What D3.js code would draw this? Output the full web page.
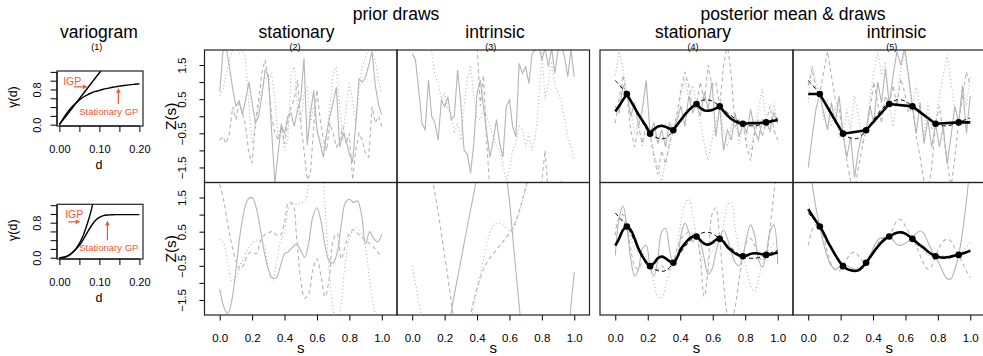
<!DOCTYPE html>
<html>
<head>
<meta charset="utf-8">
<script src="https://cdn.jsdelivr.net/npm/d3@7"></script>
<style>
  body { margin: 0; background: #fff; }
  svg { display: block; }
  text { font-family: "Liberation Sans", Arial, Helvetica, sans-serif; fill: #000; }
</style>
</head>
<body>
<svg id="chart" width="983" height="356"></svg>
<script>
/* --------------------------------------------------------- */
/* DATA                                                      */
/* --------------------------------------------------------- */

// variogram panels (1)
const varD = d3.range(21).map(i => i / 100);
const varStatTop = [0, 0.15, 0.28, 0.39, 0.48, 0.56, 0.63, 0.68, 0.72, 0.755, 0.78, 0.805, 0.825, 0.845, 0.86, 0.875, 0.89, 0.9, 0.91, 0.92, 0.93];
const varIgpTopD = [0, 0.05, 0.1, 0.13];
const varIgpTop = [0, 0.59, 1.18, 1.53];
const varStatBot = [0, 0.01, 0.04, 0.1, 0.18, 0.28, 0.42, 0.58, 0.73, 0.85, 0.92, 0.96, 0.975, 0.98, 0.985, 0.985, 0.985, 0.985, 0.985, 0.985, 0.985];
const varIgpBotD = [0, 0.01, 0.02, 0.03, 0.04, 0.05, 0.06, 0.07, 0.08, 0.09];
const varIgpBot = [0, 0.005, 0.03, 0.09, 0.19, 0.33, 0.52, 0.78, 1.1, 1.5];

// observed locations / values
const obsS = [1, 3, 5, 7, 9, 11, 13].map(k => k / 14);
const obsZ = [0.65, -0.51, -0.41, 0.36, 0.29, -0.22, -0.18];

// grids of s
const grid51 = d3.range(51).map(i => i / 50);
const grid41 = d3.range(41).map(i => i / 40);
const grid43 = d3.range(43).map(i => i / 42);

// (2) prior, stationary, rough
const priorStatRoughSolid = [0.72, 1.9, 2.0, 1.45, 0.8, 0.3, 0.45, 0.05, 0.5, 1.0, 0.4, -0.2, 0.0, 0.6, 1.35, 1.2, -0.4, -1.96, -1.1, -0.25, -0.5, 0.0, 0.1, -0.3, 0.2, 0.5, 1.7, -0.85, 0.1, 0.75, -0.4, -0.8, -1.2, -0.5, 0.0, 0.4, 0.85, -0.9, -0.5, -0.7, -1.1, -1.35, -0.2, 1.1, 1.0, 1.15, 1.5, 1.9, 0.9, 0.35, 0.04];
const priorStatRoughDashed = [-0.7, -0.6, -0.8, -0.5, 0.28, -0.1, 0.38, 0.1, -0.3, -1.1, -1.37, -0.2, 0.48, 1.26, 1.65, 1.06, 0.0, -0.5, -0.7, -0.3, -0.8, -0.2, 0.28, 0.48, 1.06, -0.2, -1.0, -1.86, -1.67, -0.3, 0.77, -0.1, -0.7, -1.0, -0.2, -0.5, -0.9, -0.7, -0.3, -0.8, -0.5, -1.86, -1.0, -0.5, -0.7, -1.1, -1.2, 0.28, -0.2, 0.0, -0.3];
const priorStatRoughDotted = [0.6, 0.77, 1.26, 1.65, 1.94, 2.0, 1.84, 1.94, 1.65, 0.28, -0.8, -0.3, 0.28, 0.77, 1.16, 1.06, 1.26, 0.48, -0.7, -0.2, -1.0, -0.7, 1.26, 1.45, 0.28, -0.2, 0.67, 0.87, -0.2, 0.28, -0.4, -0.7, -1.0, -0.5, 0.28, 1.26, 1.45, 0.28, -0.7, 0.28, 0.96, 0.48, -0.2, 0.77, 1.45, 1.74, 1.94, 1.84, 1.65, 1.06, 0.67];

// (3) prior, intrinsic, rough
const priorIntrRoughSolid = [1.84, 1.65, 0.77, -0.2, -0.4, 1.06, 0.0, -0.2, -0.7, 0.48, 0.28, 0.57, -0.1, 0.0, 1.35, 0.38, -1.0, -1.1, -1.67, -0.8, 0.67, 1.06, 0.28, -0.5, -1.2, -0.7, -0.1, -0.8, -1.2, 0.28, 0.48, -0.3, -0.6, 1.55, 1.26, 1.45, 0.96, 1.84, 1.94, 2.1, 1.65, 2.0, 1.45, 2.0, 1.26, 1.94, 2.1, 1.74, 1.16, 1.94, 1.16];
const priorIntrRoughDashed = [3.0, 3.2, 3.5, 3.3, 3.6, 3.9, 3.5, 3.2, 3.4, 3.0, 2.8, 3.1, 3.3, 2.9, 2.7, 3.0, 2.6, 2.8, 2.5, 2.3, 2.1, 0.3, 1.2, -0.8, -2.2, -2.6, -3.0, -2.8, -3.2, -3.5, -3.3, -3.0, -3.4, -3.1, -2.9, -3.2, -2.8, -2.5, -2.4, -2.2, -1.9, -1.0, -2.3, -2.6, -2.4, -2.2, -1.9, -2.5, -2.8, -2.6, -3.0];
const priorIntrRoughDotted = [2.8, 2.6, 2.5, 2.4, 2.2, 2.1, 1.9, 1.2, 1.0, 0.5, 0.7, 0.2, 0.1, -0.5, -0.2, -0.7, 0.3, 1.1, 1.5, 0.6, 0.0, -0.1, 0.2, 0.0, -0.3, -0.6, -0.9, -1.0, -1.4, -1.9, -1.6, -1.0, -0.8, -0.3, -0.4, -0.9, -0.5, -1.0, -0.6, 0.4, 1.9, 0.5, 1.0, 1.6, 0.9, 0.7, 0.4, -0.1, -0.6, -0.9, -1.3];

// (4) posterior, stationary, rough
const postStatRoughMean = [0.14, 0.3, 0.48, 0.65, 0.45, 0.25, 0.05, -0.12, -0.3, -0.51, -0.38, -0.3, -0.28, -0.31, -0.36, -0.41, -0.25, -0.1, 0.05, 0.18, 0.28, 0.36, 0.24, 0.17, 0.16, 0.18, 0.23, 0.29, 0.15, 0.02, -0.08, -0.15, -0.2, -0.22, -0.21, -0.2, -0.2, -0.2, -0.19, -0.18, -0.16, -0.13, -0.11];
const postStatRoughSolid = [0.3, 0.1, 0.9, 0.65, 0.0, 0.4, -0.3, 0.2, 1.05, -0.51, -0.2, -0.8, -0.4, -0.9, -0.2, -0.41, -0.1, 0.3, -0.3, 0.6, 0.1, 0.36, 0.0, 0.7, 0.2, 1.0, -0.6, 0.29, -1.0, -0.4, -0.7, 0.1, -0.6, -0.22, -0.5, 0.2, -0.4, -0.7, -0.1, -0.18, -0.4, 0.1, -0.2];
const postStatRoughDashed = [-0.2, 0.5, 1.2, 0.65, -0.4, -0.9, -0.3, -0.8, -0.2, -0.51, -1.2, -1.7, -1.0, -1.4, -0.8, -0.41, 0.1, 0.8, 1.3, 0.9, 0.2, 0.36, 1.0, 0.4, 1.5, 0.9, 1.0, 0.29, 1.5, 2.1, 1.2, -0.3, -0.1, -0.22, -0.9, -1.3, -0.5, -0.1, -0.6, -0.18, 0.3, -0.4, -0.7];
const postStatRoughDotted = [1.2, 1.9, 1.4, 0.65, 0.2, -0.5, -0.2, -0.9, -0.4, -0.51, -1.1, -1.5, -1.9, -1.3, -0.9, -0.41, 0.0, 0.6, 1.1, 0.5, 0.9, 0.36, -0.2, -0.8, -1.3, -0.7, -0.2, 0.29, -0.4, -0.9, -0.3, 0.0, -0.8, -0.22, -0.7, -1.0, -0.4, 0.2, 0.8, -0.18, -0.5, 0.4, -0.3];

// (5) posterior, intrinsic, rough (mean is piecewise linear through the data)
const postIntrRoughMeanS = [0, 1 / 14, 3 / 14, 5 / 14, 7 / 14, 9 / 14, 11 / 14, 13 / 14, 1];
const postIntrRoughMean = [0.65, 0.65, -0.51, -0.41, 0.36, 0.29, -0.22, -0.18, -0.18];
const postIntrRoughSolid = [-1.5, -0.6, 0.2, 0.65, 0.1, -0.4, 0.4, -0.2, 0.6, -0.51, -1.2, -0.6, -1.8, -1.0, -0.5, -0.41, 0.3, -0.2, 1.0, 0.4, 1.4, 0.36, 1.2, 1.9, 1.5, 2.0, 1.2, 0.29, -0.5, 0.4, -0.8, -0.1, -0.9, -0.22, -0.9, -0.3, -1.4, -0.6, 0.3, -0.18, 0.9, -0.5, 0.6];
const postIntrRoughDashed = [0.9, 1.4, 0.8, 0.65, 1.3, 1.9, 1.2, 0.5, 0.2, -0.51, -1.3, -1.9, -2.2, -1.5, -0.9, -0.41, 0.2, 1.0, 0.4, -0.2, 0.6, 0.36, 0.9, 0.3, 1.1, 0.7, 0.1, 0.29, -0.6, -1.2, -1.9, -2.3, -1.5, -0.22, 0.3, -0.5, -1.3, -2.1, -1.2, -0.18, 0.6, 1.3, 0.9];
const postIntrRoughDotted = [0.4, 1.5, 1.0, 0.65, -0.1, 0.5, -0.3, 0.3, -0.6, -0.51, 0.2, -0.4, 0.6, 0.0, -0.8, -0.41, 0.5, 1.3, 1.9, 1.2, 1.6, 0.36, -0.3, 0.5, 1.4, 1.9, 1.0, 0.29, 0.9, 0.2, -0.6, 0.4, -0.4, -0.22, 0.6, 1.2, 1.8, 1.0, 0.2, -0.18, 0.9, 0.3, 1.2];

// (2) prior, stationary, smooth
const priorStatSmoothSolid = [-1.18, -1.7, -1.9, -1.5, -0.6, 0.4, 1.1, 1.45, 1.5, 1.2, 0.6, -0.1, -0.6, -0.85, -0.85, -0.5, -0.15, -0.08, 0.05, 0.14, -0.05, -0.25, 0.2, 0.95, 1.2, 0.8, 0.1, -0.35, -0.42, -0.1, 0.7, 1.35, 1.45, 1.35, 1.4, 1.0, 0.15, 0.5, 0.3, 0.2, 0.43];
const priorStatSmoothDashed = [1.89, 1.4, 0.7, 0.1, -0.35, -0.6, -0.45, -0.15, -0.1, -0.15, 0.2, 0.4, 0.45, 0.52, 0.4, 0.4, 0.8, 1.35, 1.3, 0.3, -0.9, -1.45, -1.3, -0.6, -0.3, -0.8, -1.4, -0.9, 0.25, 0.45, -0.3, 0.1, 0.45, 0.55, 0.45, 0.35, 0.25, 0.15, 0.05, -0.1, -0.25];
const priorStatSmoothDotted = [0.28, 0.15, -0.4, -0.95, -0.85, -0.5, -0.25, 0.0, 0.15, 0.25, 0.25, 0.1, -0.6, -0.95, -0.4, 0.2, 0.5, 1.2, 1.35, 1.3, 1.35, 1.4, 1.9, 2.6, 3.0, 2.8, 1.2, -0.6, -1.8, -2.3, -1.6, -0.4, 0.3, 0.55, 0.6, 0.45, 0.0, -0.9, -1.7, -2.3, -2.7];

// (3) prior, intrinsic, smooth
const priorIntrSmoothSolid = [-7.0, -7.2, -7.1, -6.8, -6.3, -5.6, -4.8, -3.9, -3.1, -2.3, -1.6, -0.97, -0.35, 0.28, 0.9, 1.5, 2.1, 2.6, 3.0, 3.3, 3.4, 3.3, 2.9, 2.3, 1.4, 0.1, -1.15, -2.4, -3.5, -4.5, -5.3, -5.9, -6.3, -6.5, -6.4, -6.0, -5.3, -4.1, -3.1, -1.9, -0.69];
const priorIntrSmoothDashed = [5.5, 5.0, 4.3, 3.5, 2.7, 2.05, 1.35, 0.6, -0.2, -1.0, -1.85, -2.5, -2.9, -2.7, -2.2, -1.6, -1.15, -0.8, -0.5, -0.3, -0.15, 0.0, 0.15, 0.3, 0.45, 0.65, 0.95, 1.35, 1.8, 2.3, 2.8, 3.3, 3.8, 4.2, 4.6, 5.0, 5.3, 5.6, 5.8, 6.0, 6.2];
const priorIntrSmoothDotted = [-0.5, -1.15, -1.8, -2.4, -2.9, -3.3, -3.6, -3.8, -3.9, -3.85, -3.7, -3.45, -3.1, -2.7, -2.3, -1.8, -1.2, -0.65, -0.1, 0.4, 0.68, 0.75, 0.72, 0.62, 0.52, 0.6, 0.9, 1.3, 1.75, 2.3, 2.9, 3.4, 3.9, 4.3, 4.6, 4.9, 5.1, 5.3, 5.4, 5.5, 5.6];

// (4) posterior, stationary, smooth
const postStatSmoothMean = [0.09, 0.3, 0.55, 0.65, 0.55, 0.3, 0.0, -0.22, -0.4, -0.51, -0.42, -0.28, -0.23, -0.28, -0.36, -0.41, -0.25, 0.0, 0.15, 0.28, 0.36, 0.36, 0.25, 0.15, 0.12, 0.17, 0.26, 0.29, 0.2, 0.05, -0.05, -0.14, -0.2, -0.22, -0.2, -0.15, -0.13, -0.14, -0.16, -0.18, -0.17, -0.14, -0.11];
const postStatSmoothSolid = [-0.2, 0.9, 1.25, 0.65, -0.3, -0.8, -0.6, 0.0, 0.1, -0.51, -0.8, -0.3, 0.5, 0.6, 0.0, -0.41, -0.3, 0.4, 0.75, 0.5, 0.2, 0.36, 0.2, -0.3, -0.75, -0.6, -0.1, 0.29, 0.55, 0.3, -0.1, -0.4, -0.5, -0.22, 0.35, 0.7, 0.4, -0.3, -0.55, -0.18, 0.5, 0.7, -0.45];
const postStatSmoothDashed = [0.4, 0.9, 1.0, 0.65, 0.0, -0.5, -0.6, -0.4, -0.4, -0.51, -0.6, -0.6, -0.5, -0.6, -0.6, -0.41, 0.0, 0.3, 0.4, 0.5, 0.45, 0.36, -0.3, -1.4, -0.6, 1.0, 1.2, 0.29, -1.0, -1.9, -2.1, -1.7, -0.9, -0.22, 0.2, 0.3, 0.1, -0.2, -0.35, -0.18, 0.6, 1.6, 2.5];
const postStatSmoothDotted = [0.6, 0.9, 0.85, 0.65, 0.3, 0.0, -0.1, -0.1, -0.25, -0.51, -1.0, -1.4, -1.45, -1.1, -0.7, -0.41, 0.1, 0.8, 1.3, 1.45, 1.0, 0.36, -0.1, -0.4, -0.3, -0.05, 0.15, 0.29, 0.7, 1.3, 1.35, 0.6, 0.0, -0.22, -0.6, -1.1, -1.25, -0.9, -0.45, -0.18, 0.0, 0.15, 0.2];

// (5) posterior, intrinsic, smooth
const postIntrSmoothMean = [1.16, 0.98, 0.81, 0.65, 0.46, 0.22, 0.02, -0.18, -0.36, -0.51, -0.59, -0.63, -0.65, -0.63, -0.54, -0.41, -0.25, -0.09, 0.06, 0.19, 0.29, 0.36, 0.42, 0.47, 0.48, 0.45, 0.38, 0.29, 0.2, 0.1, 0.02, -0.08, -0.16, -0.22, -0.25, -0.26, -0.25, -0.23, -0.2, -0.18, -0.14, -0.1, -0.06];
const postIntrSmoothSolid = [2.6, 1.9, 1.2, 0.65, 0.15, -0.25, -0.5, -0.6, -0.55, -0.51, -0.5, -0.55, -0.6, -0.6, -0.52, -0.41, -0.2, 0.05, 0.25, 0.32, 0.3, 0.36, 0.25, 0.12, 0.1, 0.15, 0.22, 0.29, 0.45, 0.52, 0.45, 0.2, -0.05, -0.22, -0.45, -0.7, -0.88, -0.88, -0.6, -0.18, 0.5, 1.4, 2.5];
const postIntrSmoothDashed = [0.1, 0.55, 0.7, 0.65, 0.35, -0.1, -0.45, -0.62, -0.65, -0.51, -0.3, -0.15, -0.1, -0.2, -0.35, -0.41, -0.3, -0.05, 0.15, 0.3, 0.35, 0.36, 0.6, 0.82, 0.85, 0.7, 0.5, 0.29, 0.1, -0.2, -0.45, -0.6, -0.5, -0.22, 0.05, 0.22, 0.28, 0.22, 0.02, -0.18, -0.42, -0.65, -0.84];
const postIntrSmoothDotted = [1.3, 1.0, 0.78, 0.65, 0.5, 0.3, 0.05, -0.2, -0.4, -0.51, -0.58, -0.6, -0.58, -0.53, -0.48, -0.41, -0.3, -0.15, 0.02, 0.18, 0.3, 0.36, 0.4, 0.44, 0.45, 0.42, 0.36, 0.29, 0.18, 0.05, -0.08, -0.18, -0.22, -0.22, -0.2, -0.2, -0.22, -0.24, -0.23, -0.18, -0.08, 0.05, 0.2];

// true surface (black dashed, posterior panels)
const truthZ = [1.05, 0.92, 0.79, 0.65, 0.46, 0.22, 0.02, -0.18, -0.36, -0.51, -0.59, -0.64, -0.66, -0.64, -0.55, -0.41, -0.25, -0.09, 0.06, 0.2, 0.31, 0.38, 0.44, 0.48, 0.48, 0.45, 0.38, 0.29, 0.2, 0.1, 0.02, -0.08, -0.16, -0.22, -0.26, -0.28, -0.28, -0.26, -0.22, -0.18, -0.13, -0.09, -0.05];

// texts
const groupTitles = ["prior draws", "posterior mean & draws"];
const colTitles = ["stationary", "intrinsic", "stationary", "intrinsic"];
const colNumbers = ["(2)", "(3)", "(4)", "(5)"];
const zTicks = [-1.5, -1, -0.5, 0, 0.5, 1, 1.5];
const zTickLabels = [-1.5, -0.5, 0.5, 1.5];
const sTicks = [0, 0.2, 0.4, 0.6, 0.8, 1.0];
const dTicks = [0, 0.05, 0.1, 0.15, 0.2];
const dTickLabels = [0, 0.1, 0.2];
const gTicks = [0, 0.2, 0.4, 0.6, 0.8, 1.0, 1.2];
const gTickLabels = [0, 0.8];

/* --------------------------------------------------------- */
/* DRAW                                                      */
/* --------------------------------------------------------- */
const GRAY = '#b4b4b4';
const RED = '#f0553b';
const DASHES = [null, '4,3', '1,2.6'];
const COLS = [[204.5, 397], [397, 589.5], [600, 793], [793, 985.5]];
const ROWS = [[50, 182.5], [182.5, 315]];
const minus = d3.format('.1f');
const fmt1 = v => minus(v).replace('-', '\u2212');

const svg = d3.select('#chart');

const panels = [
  { c: 0, r: 0, grid: grid51, smooth: false, draws: [priorStatRoughSolid, priorStatRoughDashed, priorStatRoughDotted] },
  { c: 1, r: 0, grid: grid51, smooth: false, draws: [priorIntrRoughSolid, priorIntrRoughDashed, priorIntrRoughDotted] },
  { c: 2, r: 0, grid: grid43, smooth: false, draws: [postStatRoughSolid, postStatRoughDashed, postStatRoughDotted],
    meanS: grid43, mean: postStatRoughMean },
  { c: 3, r: 0, grid: grid43, smooth: false, draws: [postIntrRoughSolid, postIntrRoughDashed, postIntrRoughDotted],
    meanS: postIntrRoughMeanS, mean: postIntrRoughMean },
  { c: 0, r: 1, grid: grid41, smooth: true, draws: [priorStatSmoothSolid, priorStatSmoothDashed, priorStatSmoothDotted] },
  { c: 1, r: 1, grid: grid41, smooth: true, draws: [priorIntrSmoothSolid, priorIntrSmoothDashed, priorIntrSmoothDotted] },
  { c: 2, r: 1, grid: grid43, smooth: true, draws: [postStatSmoothSolid, postStatSmoothDashed, postStatSmoothDotted],
    meanS: grid43, mean: postStatSmoothMean },
  { c: 3, r: 1, grid: grid43, smooth: true, draws: [postIntrSmoothSolid, postIntrSmoothDashed, postIntrSmoothDotted],
    meanS: grid43, mean: postIntrSmoothMean }
];

function drawPanel(p) {
  const [x0, x1] = COLS[p.c], [y0, y1] = ROWS[p.r];
  const x = d3.scaleLinear().domain([-0.094, 1.094]).range([x0, x1]);
  const y = d3.scaleLinear().domain([-1.94, 1.94]).range([y1, y0]);
  const id = 'clip' + p.c + '' + p.r;
  svg.append('clipPath').attr('id', id).append('rect')
    .attr('x', x0).attr('y', y0).attr('width', x1 - x0).attr('height', y1 - y0);
  const g = svg.append('g').attr('clip-path', `url(#${id})`);
  const curve = p.smooth ? d3.curveCatmullRom.alpha(0.5) : d3.curveLinear;
  const line = d3.line().x(d => x(d[0])).y(d => y(d[1])).curve(curve);

  p.draws.forEach((vals, k) => {
    g.append('path')
      .attr('d', line(vals.map((v, i) => [p.grid[i], v])))
      .attr('fill', 'none')
      .attr('stroke', GRAY)
      .attr('stroke-width', 1.1)
      .attr('stroke-dasharray', DASHES[k]);
  });

  if (p.mean) {
    g.append('path')
      .attr('d', d3.line().x(d => x(d[0])).y(d => y(d[1])).curve(d3.curveCatmullRom.alpha(0.5))(truthZ.map((v, i) => [grid43[i], v])))
      .attr('fill', 'none').attr('stroke', '#000').attr('stroke-width', 1).attr('stroke-dasharray', '4,3');
    g.append('path')
      .attr('d', line(p.mean.map((v, i) => [p.meanS[i], v])))
      .attr('fill', 'none').attr('stroke', '#000').attr('stroke-width', 2.6)
      .attr('stroke-linejoin', 'round');
    g.selectAll('circle.obs').data(obsS).enter().append('circle')
      .attr('class', 'obs')
      .attr('cx', d => x(d)).attr('cy', (d, i) => y(obsZ[i]))
      .attr('r', 3.3).attr('fill', '#000');
  }

  // y axis only on first column
  if (p.c === 0) {
    const ax = svg.append('g').attr('transform', `translate(${x0},0)`)
      .call(d3.axisLeft(y).tickValues(zTicks).tickSize(5).tickSizeOuter(0)
        .tickFormat(v => zTickLabels.includes(v) ? fmt1(v) : ''));
    ax.select('.domain').remove();
    ax.selectAll('line').attr('stroke', '#000');
    ax.selectAll('text')
      .attr('transform', 'rotate(-90)')
      .attr('x', 0).attr('y', -18.5).attr('dy', null)
      .attr('text-anchor', 'middle')
      .style('font-size', '11.5px');
    svg.append('text')
      .attr('transform', `translate(${x0 - 28.5},${(y0 + y1) / 2}) rotate(-90)`)
      .attr('text-anchor', 'middle')
      .style('font-size', '15.5px')
      .text('Z(s)');
  }
  // x axis on bottom row
  if (p.r === 1) {
    const ax = svg.append('g').attr('transform', `translate(0,${y1})`)
      .call(d3.axisBottom(x).tickValues(sTicks).tickSize(5.5).tickSizeOuter(0).tickFormat(d3.format('.1f')));
    ax.select('.domain').remove();
    ax.selectAll('line').attr('stroke', '#000');
    ax.selectAll('text').attr('y', 26.5).attr('dy', null).style('font-size', '11.5px');
    svg.append('text')
      .attr('x', x(0.5)).attr('y', 353)
      .attr('text-anchor', 'middle')
      .style('font-size', '15px')
      .text('s');
  }
}

panels.forEach(drawPanel);

// panel frames
panels.forEach(p => {
  const [x0, x1] = COLS[p.c], [y0, y1] = ROWS[p.r];
  svg.append('rect')
    .attr('x', x0).attr('y', y0).attr('width', x1 - x0).attr('height', y1 - y0)
    .attr('fill', 'none').attr('stroke', '#222').attr('stroke-width', 1.2);
});

// titles
svg.append('text').attr('x', 396).attr('y', 19.5).attr('text-anchor', 'middle')
  .style('font-size', '17.5px').text(groupTitles[0]);
svg.append('text').attr('x', 793).attr('y', 19.5).attr('text-anchor', 'middle')
  .style('font-size', '17.5px').text(groupTitles[1]);
const titleX = [296.5, 495, 693, 896.5];
const numX = [295, 490.7, 693, 891.7];
colTitles.forEach((t, i) => {
  svg.append('text').attr('x', titleX[i]).attr('y', 37.5).attr('text-anchor', 'middle')
    .style('font-size', '17.5px').text(t);
  svg.append('text').attr('x', numX[i]).attr('y', 49.5).attr('text-anchor', 'middle')
    .style('font-size', '9px').text(colNumbers[i]);
});

/* --------------------------------------------------------- */
/* VARIOGRAMS                                                */
/* --------------------------------------------------------- */
svg.append('text').attr('x', 99).attr('y', 37.5).attr('text-anchor', 'middle')
  .style('font-size', '17.5px').text('variogram');
svg.append('text').attr('x', 96.7).attr('y', 49.5).attr('text-anchor', 'middle')
  .style('font-size', '9px').text('(1)');

const vgPanels = [
  { top: 71, bottom: 126, stat: varStatTop, igpD: varIgpTopD, igp: varIgpTop,
    igpText: [0.032, 1.0], igpArrow: [[0.036, 0.86], [0.07, 0.86]],
    statText: [0.1235, 0.3], statArrow: [[0.1475, 0.47], [0.1475, 0.83]] },
  { top: 204.3, bottom: 259, stat: varStatBot, igpD: varIgpBotD, igp: varIgpBot,
    igpText: [0.037, 0.99], igpArrow: [[0.0225, 0.82], [0.052, 0.82]],
    statText: [0.1235, 0.24], statArrow: [[0.12, 0.4], [0.12, 0.845]] }
];

vgPanels.forEach((v, k) => {
  const x = d3.scaleLinear().domain([-0.006, 0.209]).range([57, 143]);
  const y = d3.scaleLinear().domain([-0.03, 1.22]).range([v.bottom, v.top]);
  const id = 'vclip' + k;
  svg.append('clipPath').attr('id', id).append('rect')
    .attr('x', 57).attr('y', v.top).attr('width', 86).attr('height', v.bottom - v.top);
  const g = svg.append('g').attr('clip-path', `url(#${id})`);
  const smoothLine = d3.line().x(d => x(d[0])).y(d => y(d[1])).curve(d3.curveMonotoneX);
  g.append('path').attr('d', smoothLine(v.stat.map((s, i) => [varD[i], s])))
    .attr('fill', 'none').attr('stroke', '#000').attr('stroke-width', 1.4);
  g.append('path').attr('d', smoothLine(v.igp.map((s, i) => [v.igpD[i], s])))
    .attr('fill', 'none').attr('stroke', '#000').attr('stroke-width', 1.4);

  svg.append('rect').attr('x', 57).attr('y', v.top).attr('width', 86).attr('height', v.bottom - v.top)
    .attr('fill', 'none').attr('stroke', '#222').attr('stroke-width', 1.2);

  const ax = svg.append('g').attr('transform', `translate(0,${v.bottom})`)
    .call(d3.axisBottom(x).tickValues(dTicks).tickSize(6).tickSizeOuter(0)
      .tickFormat(d => dTickLabels.includes(d) ? d3.format('.2f')(d) : ''));
  ax.select('.domain').attr('d', `M${x(0)},0H${x(0.2)}`).attr('stroke', '#000');
  ax.selectAll('line').attr('stroke', '#000');
  ax.selectAll('text').attr('y', 26.5).attr('dy', null).style('font-size', '11px');

  const ay = svg.append('g').attr('transform', 'translate(57,0)')
    .call(d3.axisLeft(y).tickValues(gTicks).tickSize(6.5).tickSizeOuter(0)
      .tickFormat(d => gTickLabels.includes(d) ? d3.format('.1f')(d) : ''));
  ay.select('.domain').attr('d', `M0,${y(0)}V${y(1.2)}`).attr('stroke', '#000');
  ay.selectAll('line').attr('stroke', '#000');
  ay.selectAll('text').attr('transform', 'rotate(-90)')
    .attr('x', 0).attr('y', -16.5).attr('dy', null).attr('text-anchor', 'middle')
    .style('font-size', '11px');

  svg.append('text').attr('x', 99).attr('y', v.bottom + 42.5).attr('text-anchor', 'middle')
    .style('font-size', '12.5px').text('d');
  svg.append('text')
    .attr('transform', `translate(17,${(v.top + v.bottom) / 2 - 1.5}) rotate(-90)`)
    .attr('text-anchor', 'middle').style('font-size', '12.5px').text('\u03b3(d)');

  // annotations
  svg.append('text').attr('x', x(v.igpText[0])).attr('y', y(v.igpText[1]) + 4)
    .attr('text-anchor', 'middle').style('font-size', '10.5px').style('fill', RED).text('IGP');
  svg.append('text').attr('x', x(v.statText[0])).attr('y', y(v.statText[1]) + 3.5)
    .attr('text-anchor', 'middle').style('font-size', '9.5px').style('fill', RED).text('Stationary GP');
  [v.igpArrow, v.statArrow].forEach(a => {
    const [p0, p1] = a.map(d => [x(d[0]), y(d[1])]);
    const ang = Math.atan2(p1[1] - p0[1], p1[0] - p0[0]);
    const L = 4.5, w = 2.4;
    svg.append('line').attr('x1', p0[0]).attr('y1', p0[1])
      .attr('x2', p1[0] - Math.cos(ang) * 3).attr('y2', p1[1] - Math.sin(ang) * 3)
      .attr('stroke', RED).attr('stroke-width', 1.2);
    const bx = p1[0] - Math.cos(ang) * L, by = p1[1] - Math.sin(ang) * L;
    svg.append('path')
      .attr('d', `M${p1[0]},${p1[1]}L${bx - Math.sin(ang) * w},${by + Math.cos(ang) * w}L${bx + Math.sin(ang) * w},${by - Math.cos(ang) * w}Z`)
      .attr('fill', RED);
  });
});
</script>
</body>
</html>
